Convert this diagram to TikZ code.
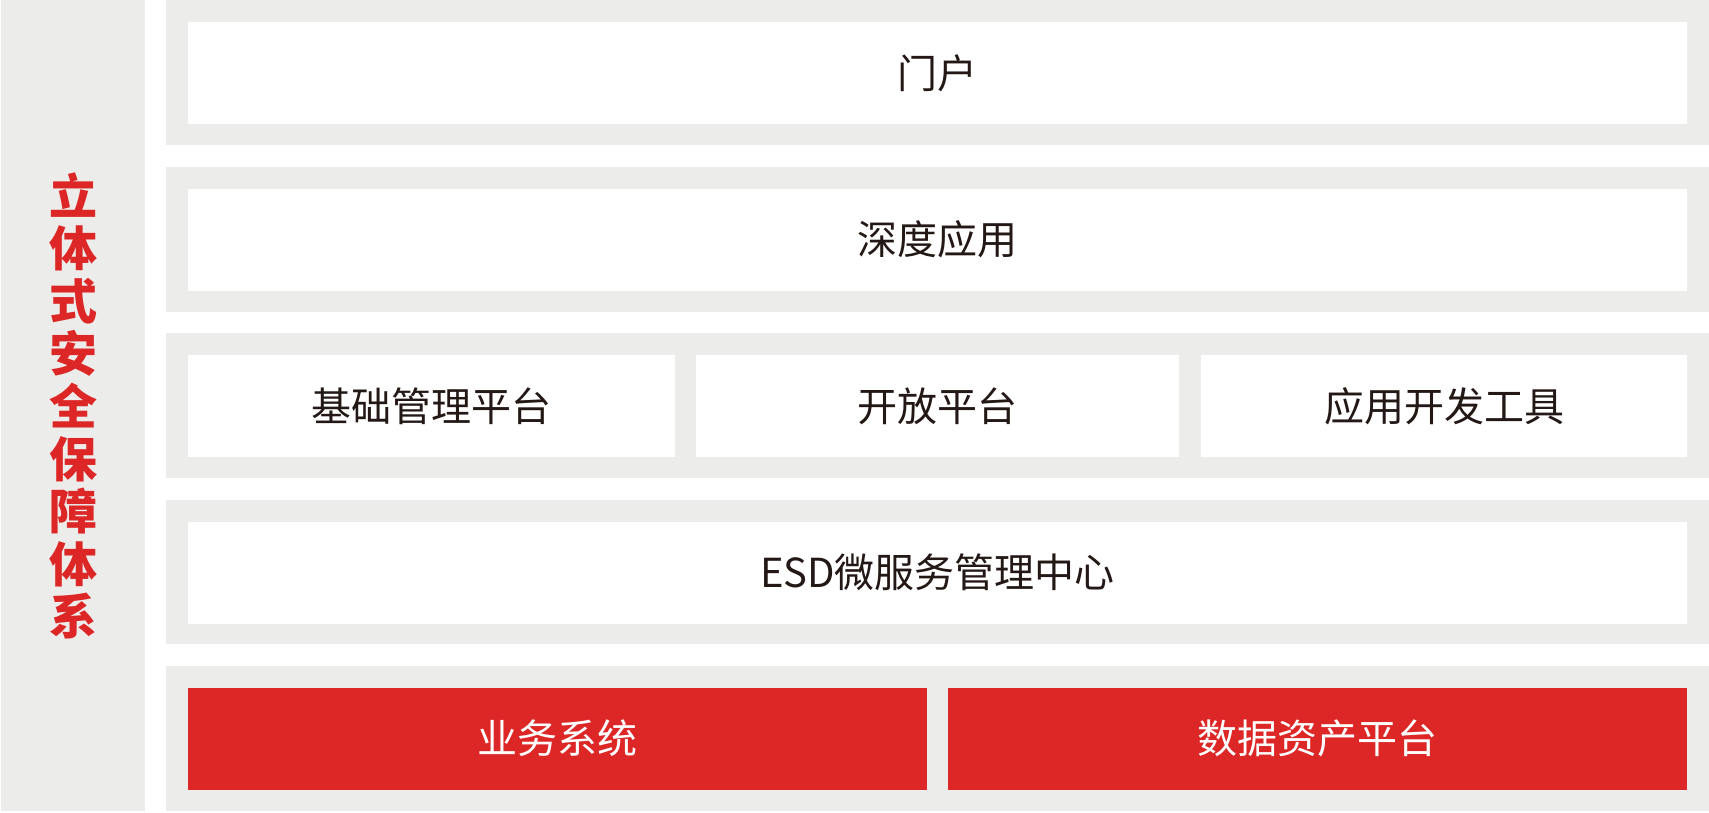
\documentclass[tikz,border=0pt]{standalone}
\usepackage{fontspec}
\setmainfont{Noto Sans CJK SC}
\usepackage{tikz}
\usetikzlibrary{positioning}
\definecolor{bandgray}{RGB}{236,236,234}
\definecolor{stackred}{RGB}{221,39,38}
\definecolor{inkdark}{RGB}{35,24,21}

\begin{document}
\begin{tikzpicture}[x=1pt,y=-1pt,
    cell/.style={fill=white,draw=none,inner sep=0pt,outer sep=0pt,minimum height=102pt,
                 text=inkdark,font=\fontsize{40}{44}\selectfont},
    redcell/.style={cell,fill=stackred,text=white}]
        \useasboundingbox (0,0) rectangle (1709,812);
        % side bar
        \fill[bandgray] (1,0) rectangle (145,811);
        \node[text=stackred,align=center,font=\fontsize{48}{52.6}\selectfont\bfseries] (security) at (73.5,406)
          {立\\体\\式\\安\\全\\保\\障\\体\\系};
        % layer bands
        \fill[bandgray] (166,0) rectangle (1709,145);
        \fill[bandgray] (166,167) rectangle (1709,312);
        \fill[bandgray] (166,333) rectangle (1709,478);
        \fill[bandgray] (166,500) rectangle (1709,644);
        \fill[bandgray] (166,666) rectangle (1709,811);
        % layers
        \node[cell,minimum width=1499pt] (portal) at (937.5,73) {门户};
        \node[cell,minimum width=1499pt] (deepapp) at (937.5,239.5) {深度应用};
        \node[cell,minimum width=487pt] (basemgmt) at (431.5,406) {基础管理平台};
        \node[cell,minimum width=483pt] (openplat) at (937.5,406) {开放平台};
        \node[cell,minimum width=486pt] (devtools) at (1444,406) {应用开发工具};
        \node[cell,minimum width=1499pt] (esd) at (937.5,572.5) {ESD微服务管理中心};
        \node[redcell,minimum width=739pt] (bizsys) at (557.5,738.5) {业务系统};
        \node[redcell,minimum width=739pt] (dataasset) at (1317.5,738.5) {数据资产平台};
      \end{tikzpicture}
\end{document}
